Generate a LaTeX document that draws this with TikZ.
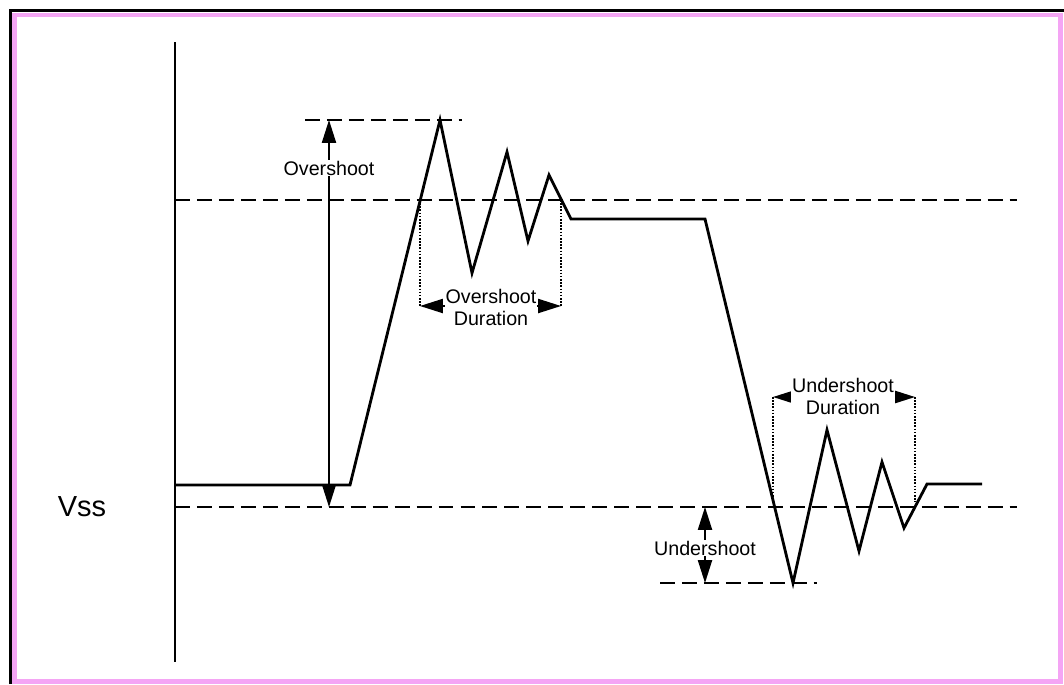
\documentclass[tikz,border=0pt]{standalone}
\usepackage{fontspec}
\setmainfont{Liberation Sans}
\usetikzlibrary{arrows.meta, positioning}

\definecolor{bandpink}{RGB}{244,165,244}

\begin{document}
\begin{tikzpicture}[x=0.02cm, y=-0.02cm,
		wave/.style={line width=1.6pt, line join=miter},
		level/.style={line width=1.4pt, dash pattern=on 8.5pt off 4pt},
		span/.style={line width=0.9pt, dash pattern=on 0.9pt off 0.9pt},
		meas/.style={line width=1pt, {Triangle[length=13pt,width=8pt]}-{Triangle[length=13pt,width=8pt]}},
		lbl/.style={fill=white, inner sep=0.5pt, font=\fontsize{11.2}{12.5}\selectfont, align=center}]
		\useasboundingbox (0,0) rectangle (1064,684);
		\fill[white] (0,0) rectangle (1064,684);

		% frame
		\draw[line width=1.4pt] (10.5,684) -- (10.5,10.5) -- (1064,10.5);
		\draw[bandpink, line width=2.8pt] (14.5,15) rectangle (1060.5,681.5);

		% axis and levels
		\draw[line width=1pt] (175,42) -- (175,662);
		\draw[level] (175,200) -- (1017,200);
		\draw[level] (175,507) -- (1017,507);
		\draw[level] (305,120) -- (462,120);
		\draw[level] (660,583) -- (817,583);

		\node (vss) at (82,507) {\fontsize{16.5}{18}\selectfont Vss};

		% signal
		\draw[wave] (175,485) -- (350,485) -- (440,120) -- (472,273) -- (507,152) -- (528,241)
			-- (549,175) -- (571,219) -- (705,219) -- (793,583) -- (827,430) -- (859,551)
			-- (882,462) -- (904,528) -- (927,484) -- (982,484);

		% overshoot
		\coordinate (ovtop) at (329,120);
		\coordinate (ovbot) at (329,507);
		\draw[meas] (ovbot) -- (ovtop);
		\node[lbl] (ov) at (329,168) {Overshoot};

		\coordinate (ovdl) at (420,306);
		\coordinate (ovdr) at (561,306);
		\draw[span] (420,200) -- (ovdl);
		\draw[span] (561,200) -- (ovdr);
		\draw[meas] (ovdl) -- (ovdr);
		\node[lbl] (ovd) at (491,307) {Overshoot\\Duration};

		% undershoot
		\coordinate (untop) at (705,507);
		\coordinate (unbot) at (705,583);
		\draw[meas] (untop) -- (unbot);
		\node[lbl] (un) at (705,548) {Undershoot};

		\coordinate (undl) at (773,397);
		\coordinate (undr) at (915,397);
		\draw[span] (undl) -- (773,500);
		\draw[span] (undr) -- (915,502);
		\draw[meas] (undl) -- (undr);
		\node[lbl] (und) at (843,396) {Undershoot\\Duration};

	\end{tikzpicture}
\end{document}
